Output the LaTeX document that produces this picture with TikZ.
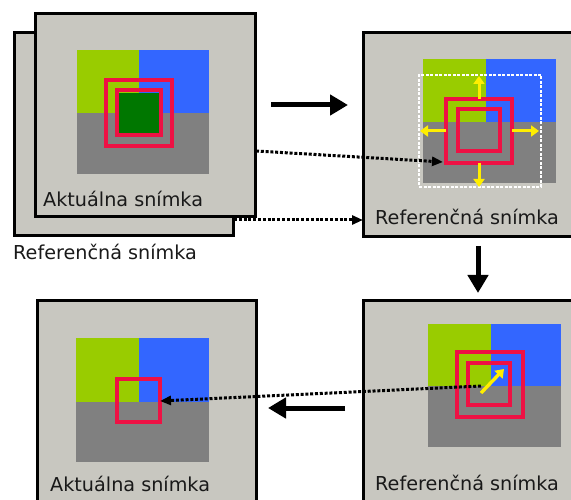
\documentclass[tikz,border=0pt]{standalone}
\usepackage{fontspec}
\setmainfont{DejaVu Sans}
\usetikzlibrary{arrows.meta}
\definecolor{framebg}{HTML}{C8C7C0}
\definecolor{ygreen}{HTML}{99CC00}
\definecolor{qblue}{HTML}{3366FF}
\definecolor{qgrey}{HTML}{808080}
\definecolor{dgreen}{HTML}{007700}
\definecolor{qred}{HTML}{EE1144}
\definecolor{qyellow}{HTML}{FFEE00}
\tikzset{
  frame/.style={draw=black, line width=3pt, fill=framebg, rectangle, inner sep=0pt, outer sep=0pt},
  redbox/.style={draw=qred, line width=4pt, rectangle, inner sep=0pt, outer sep=0pt},
  lbl/.style={anchor=base west, inner sep=0pt, font=\fontsize{19.2}{21}\selectfont, text=black!90},
  bigarrow/.style={line width=5pt, -{Triangle[length=18pt,width=20pt]}},
  dotarrow/.style={line width=3pt, dash pattern=on 3pt off 1.8pt, -{Triangle[length=11pt,width=9pt]}},
  yarrow/.style={draw=qyellow, line width=3pt, -{Triangle[length=8pt,width=11pt]}},
  wdash/.style={draw=white, line width=2pt, dash pattern=on 3pt off 1.5pt}
}
\begin{document}
\begin{tikzpicture}[x=1pt,y=-1pt]
\useasboundingbox (0,0) rectangle (571,500);
\clip (0,0) rectangle (571,500);

% ---------- top-left: reference frame behind, current frame in front
\node[frame, minimum width=219pt, minimum height=203pt] (refA) at (123.5,134.5) {};
\node[frame, minimum width=220pt, minimum height=203pt] (actA) at (145,115.5) {};
\fill[ygreen] (77,50) rectangle (139,113);
\fill[qblue] (139,50) rectangle (209,113);
\fill[qgrey] (77,113) rectangle (209,174);
\fill[dgreen] (119,93) rectangle (159,133);
\node[redbox, minimum width=66pt, minimum height=66pt] (tlO) at (139,113) {};
\node[redbox, minimum width=44pt, minimum height=45pt] (tlI) at (139,112.5) {};
\node[lbl] (tA) at (43,207) {Aktuálna snímka};
\node[lbl] (tB) at (13,260) {Referenčná snímka};

% ---------- top-right
\node[frame, minimum width=237pt, minimum height=204pt] (refB) at (481.5,135) {};
\fill[ygreen] (423,59) rectangle (486,122);
\fill[qblue] (486,59) rectangle (556,122);
\fill[qgrey] (423,122) rectangle (556,183);
\node[wdash, rectangle, inner sep=0pt, minimum width=122pt, minimum height=112pt] (search) at (480,131) {};
\node[redbox, minimum width=66pt, minimum height=64pt] (trO) at (479,131) {};
\node[redbox, minimum width=42pt, minimum height=42pt] (trI) at (479,130) {};
\draw[yarrow] (trO.north) -- (479,76);
\draw[yarrow] (trO.south) -- (479,187);
\draw[yarrow] (trO.west) -- (420,131);
\draw[yarrow] (trO.east) -- (539,131);
\node[lbl] (tC) at (375,225) {Referenčná snímka};

% ---------- bottom-right
\node[frame, minimum width=237pt, minimum height=220pt] (refC) at (481.5,410) {};
\fill[ygreen] (428,324) rectangle (491,386);
\fill[qblue] (491,324) rectangle (561,386);
\fill[qgrey] (428,386) rectangle (561,447);
\node[redbox, minimum width=66pt, minimum height=65pt] (brO) at (490,384.5) {};
\node[redbox, minimum width=42pt, minimum height=42pt] (brI) at (489,384) {};
\coordinate (mvS) at (481,393);
\coordinate (mvE) at (504,369);
\draw[yarrow, line width=3.4pt] (mvS) -- (mvE);
\node[lbl] (tD) at (375,490) {Referenčná snímka};

% ---------- bottom-left
\node[frame, minimum width=219pt, minimum height=220pt] (actB) at (146.5,410) {};
\fill[ygreen] (76,338) rectangle (139,402);
\fill[qblue] (139,338) rectangle (209,402);
\fill[qgrey] (76,402) rectangle (209,462);
\node[redbox, minimum width=43pt, minimum height=43pt] (blR) at (138.5,400.5) {};
\node[lbl] (tE) at (50,491) {Aktuálna snímka};

% ---------- connectors
\coordinate (a1s) at (271,105);
\coordinate (a1e) at (348,105);
\draw[bigarrow] (a1s) -- (a1e);
\coordinate (a2s) at (478,246);
\coordinate (a2e) at (478,293);
\draw[bigarrow] (a2s) -- (a2e);
\coordinate (a3s) at (345,408);
\coordinate (a3e) at (268,408);
\draw[bigarrow] (a3s) -- (a3e);

\coordinate (d1s) at (256,151);
\coordinate (d1e) at (443,162);
\draw[dotarrow] (d1s) -- (d1e);
\coordinate (d2s) at (234,220);
\draw[dotarrow] (d2s) -- (refB.west |- d2s);
\draw[dotarrow] (mvS |- 0,386) -- (blR.east |- 0,401);
\end{tikzpicture}
\end{document}
